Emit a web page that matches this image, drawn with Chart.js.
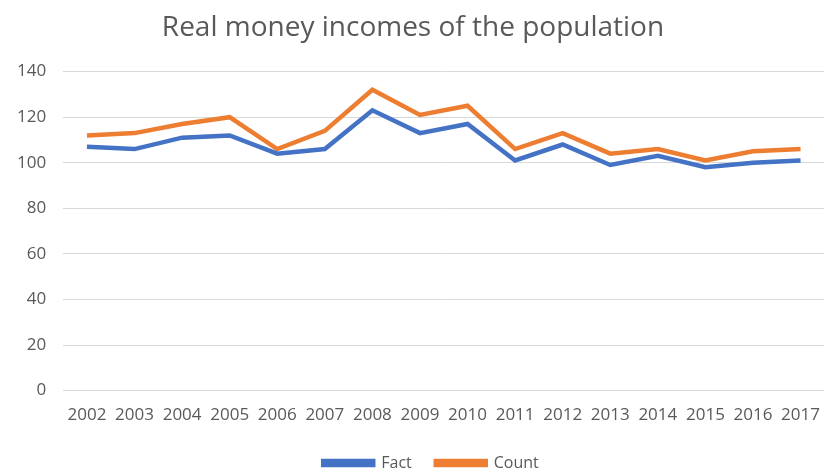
<!DOCTYPE html>
<html>
<head>
<meta charset="utf-8">
<script src="https://cdn.jsdelivr.net/npm/chart.js@4"></script>
<style>
  html, body { margin: 0; padding: 0; background: #fff; }
  #wrap { width: 826px; height: 474px; }
</style>
</head>
<body>
<div id="wrap"><canvas id="incomeChart" width="826" height="474"></canvas></div>
<script>
// years on the x axis
const years = ['2002', '2003', '2004', '2005', '2006', '2007', '2008', '2009',
  '2010', '2011', '2012', '2013', '2014', '2015', '2016', '2017'];
// values
const factValues = [107, 106, 111, 112, 104, 106, 123, 113, 117, 101, 108, 99, 103, 98, 100, 101];
const countValues = [112, 113, 117, 120, 106, 114, 132, 121, 125, 106, 113, 104, 106, 101, 105, 106];

const gridColor = '#d9d9d9';
const textColor = '#595959';
const fontName = "'Open Sans', 'Liberation Sans', sans-serif";

// legend sits a bit right of centre in the original (centred over the plot area)
const legendShift = {
  id: 'legendShift',
  beforeDraw(chart) {
    if (chart.legend && !chart.legend._shifted) {
      chart.legend.left += 18;
      chart.legend.right += 18;
      chart.legend._shifted = true;
    }
  }
};

const ctx = document.getElementById('incomeChart');
new Chart(ctx, {
  type: 'line',
  data: {
    labels: years,
    datasets: [
      {
        label: 'Fact',
        data: factValues,
        borderColor: '#4472c4',
        backgroundColor: '#4472c4',
        borderWidth: 4.5,
        pointRadius: 0,
        tension: 0
      },
      {
        label: 'Count',
        data: countValues,
        borderColor: '#ed7d31',
        backgroundColor: '#ed7d31',
        borderWidth: 4.5,
        pointRadius: 0,
        tension: 0
      }
    ]
  },
  options: {
    responsive: false,
    animation: false,
    layout: { padding: { left: 0, right: 0, top: 4, bottom: -7 } },
    plugins: {
      title: {
        display: true,
        text: 'Real money incomes of the population',
        color: textColor,
        font: { family: fontName, size: 28, weight: 'normal' },
        padding: { top: 7, bottom: 27 }
      },
      legend: {
        position: 'bottom',
        labels: {
          color: textColor,
          font: { family: fontName, size: 16 },
          boxWidth: 50,
          boxHeight: 4,
          padding: 24
        }
      },
      tooltip: { enabled: false }
    },
    scales: {
      x: {
        offset: true,
        grid: { display: false },
        border: { display: false },
        ticks: {
          color: textColor,
          font: { family: fontName, size: 17 },
          maxRotation: 0,
          autoSkip: false,
          padding: 6
        }
      },
      y: {
        min: 0,
        max: 140,
        ticks: {
          stepSize: 20,
          color: textColor,
          font: { family: fontName, size: 17 },
          padding: 17
        },
        grid: { color: gridColor, lineWidth: 1, drawTicks: false },
        border: { display: false }
      }
    }
  },
  plugins: [legendShift]
});
</script>
</body>
</html>
